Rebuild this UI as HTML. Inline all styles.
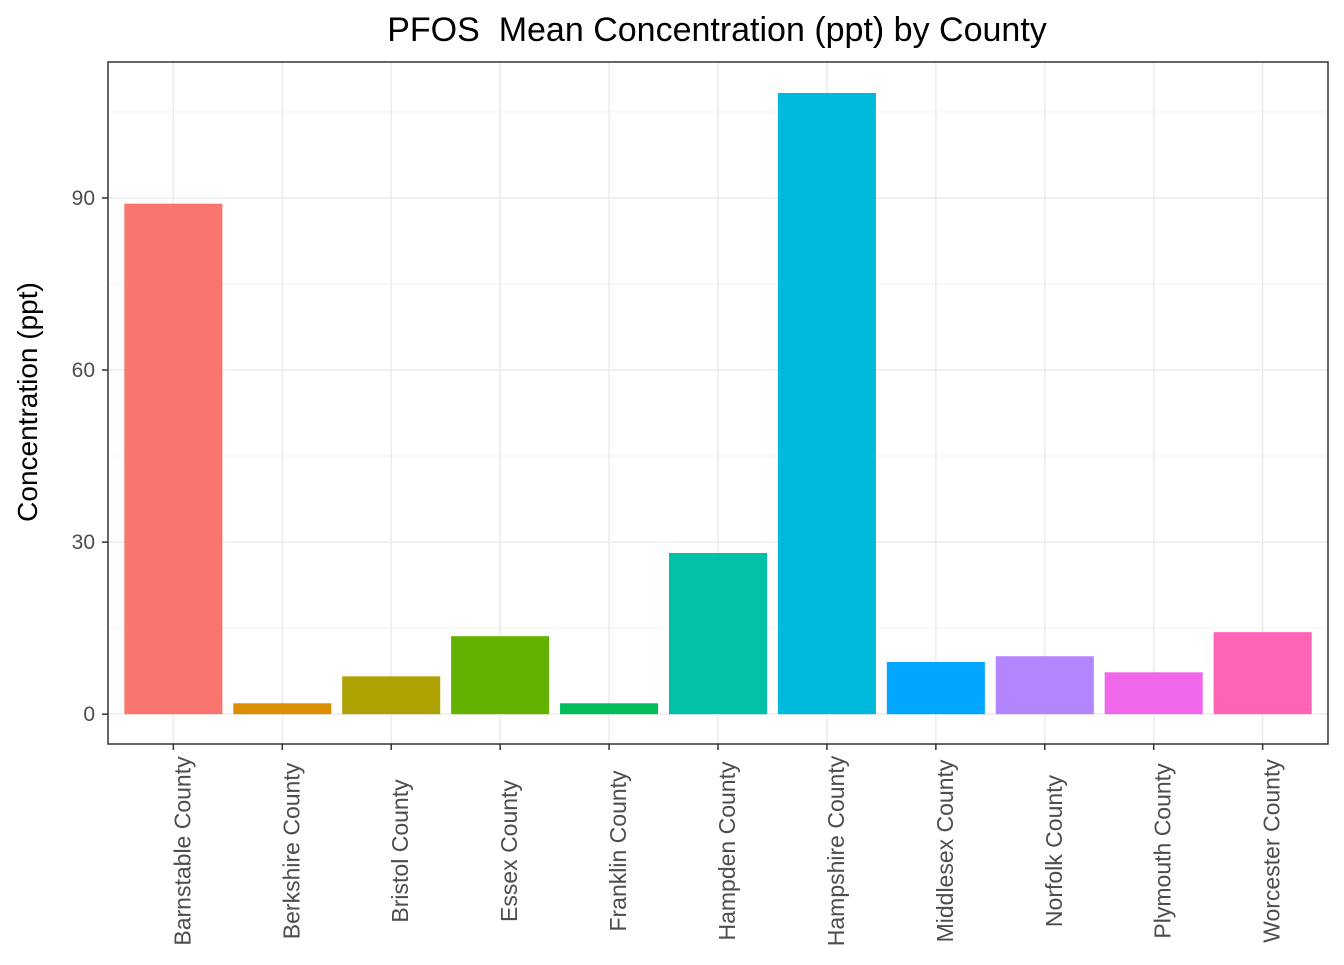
<!DOCTYPE html>
<html><head><meta charset="utf-8"><style>
body{margin:0;background:#fff;font-family:"Liberation Sans",Arial,sans-serif}
</style></head><body>
<svg width="1344" height="960" xmlns="http://www.w3.org/2000/svg" id="chart">
<text x="717" y="41" text-anchor="middle" font-size="34" fill="#000" style="white-space:pre">PFOS&#160; Mean Concentration (ppt) by County</text>
<text transform="translate(37,402) rotate(-90)" text-anchor="middle" font-size="28" fill="#000">Concentration (ppt)</text>
<g id="grid"></g><g id="bars"></g><g id="axes"></g>
</svg>
<script>
const categories=["Barnstable County","Berkshire County","Bristol County","Essex County","Franklin County","Hampden County","Hampshire County","Middlesex County","Norfolk County","Plymouth County","Worcester County"];
const values=[89,1.9,6.6,13.6,1.9,28.1,108.3,9.1,10.1,7.3,14.3];
const colors=["#F8766D","#DB8E00","#AEA200","#64B200","#00BD5C","#00C1A7","#00BADE","#00A6FF","#B385FF","#EF67EB","#FF63B6"];
const yTicks=[0,30,60,90];
const yMinor=[15,45,75,105];
const NS="http://www.w3.org/2000/svg";
const L=108,R=1328,T=62,B=744;
const yMin=-5.2,yMax=113.7;
const y=v=>B-(v-yMin)/(yMax-yMin)*(B-T);
const step=(R-L)/11.2;
const x=i=>L+(i+1-0.4)*step;
function mk(tag,attrs,parent){const e=document.createElementNS(NS,tag);for(const k in attrs)e.setAttribute(k,attrs[k]);parent.appendChild(e);return e;}
const grid=document.getElementById('grid'),bars=document.getElementById('bars'),axes=document.getElementById('axes');
yMinor.forEach(v=>{const l=mk('line',{x1:L,x2:R,y1:y(v),y2:y(v),stroke:'#f2f2f2','stroke-width':1},grid);

});
yTicks.forEach(v=>{const l=mk('line',{x1:L,x2:R,y1:y(v),y2:y(v),stroke:'#ebebeb','stroke-width':1.5},grid);


const t=mk('line',{x1:L-6,x2:L,y1:y(v),y2:y(v),stroke:'#333','stroke-width':1.5},axes);


const tx=mk('text',{x:L-13,y:y(v)+7,'text-anchor':'end','font-size':21,fill:'#4d4d4d'},axes);tx.textContent=v;

});
categories.forEach((c,i)=>{const cx=x(i);
const g=mk('line',{x1:cx,x2:cx,y1:T,y2:B,stroke:'#ebebeb','stroke-width':1.5},grid);


const w=step*0.9;
const r=mk('rect',{x:cx-w/2,y:y(values[i]),width:w,height:y(0)-y(values[i]),fill:colors[i]},bars);


const t=mk('line',{x1:cx,x2:cx,y1:B,y2:B+6,stroke:'#333','stroke-width':1.5},axes);


const tx=mk('text',{transform:`translate(${cx+17},851) rotate(-90)`,'text-anchor':'middle','font-size':23,fill:'#4d4d4d'},axes);tx.textContent=c;

});
const p=mk('rect',{x:L,y:T,width:R-L,height:B-T,fill:'none',stroke:'#333','stroke-width':1.5},axes);


</script>
</body></html>
